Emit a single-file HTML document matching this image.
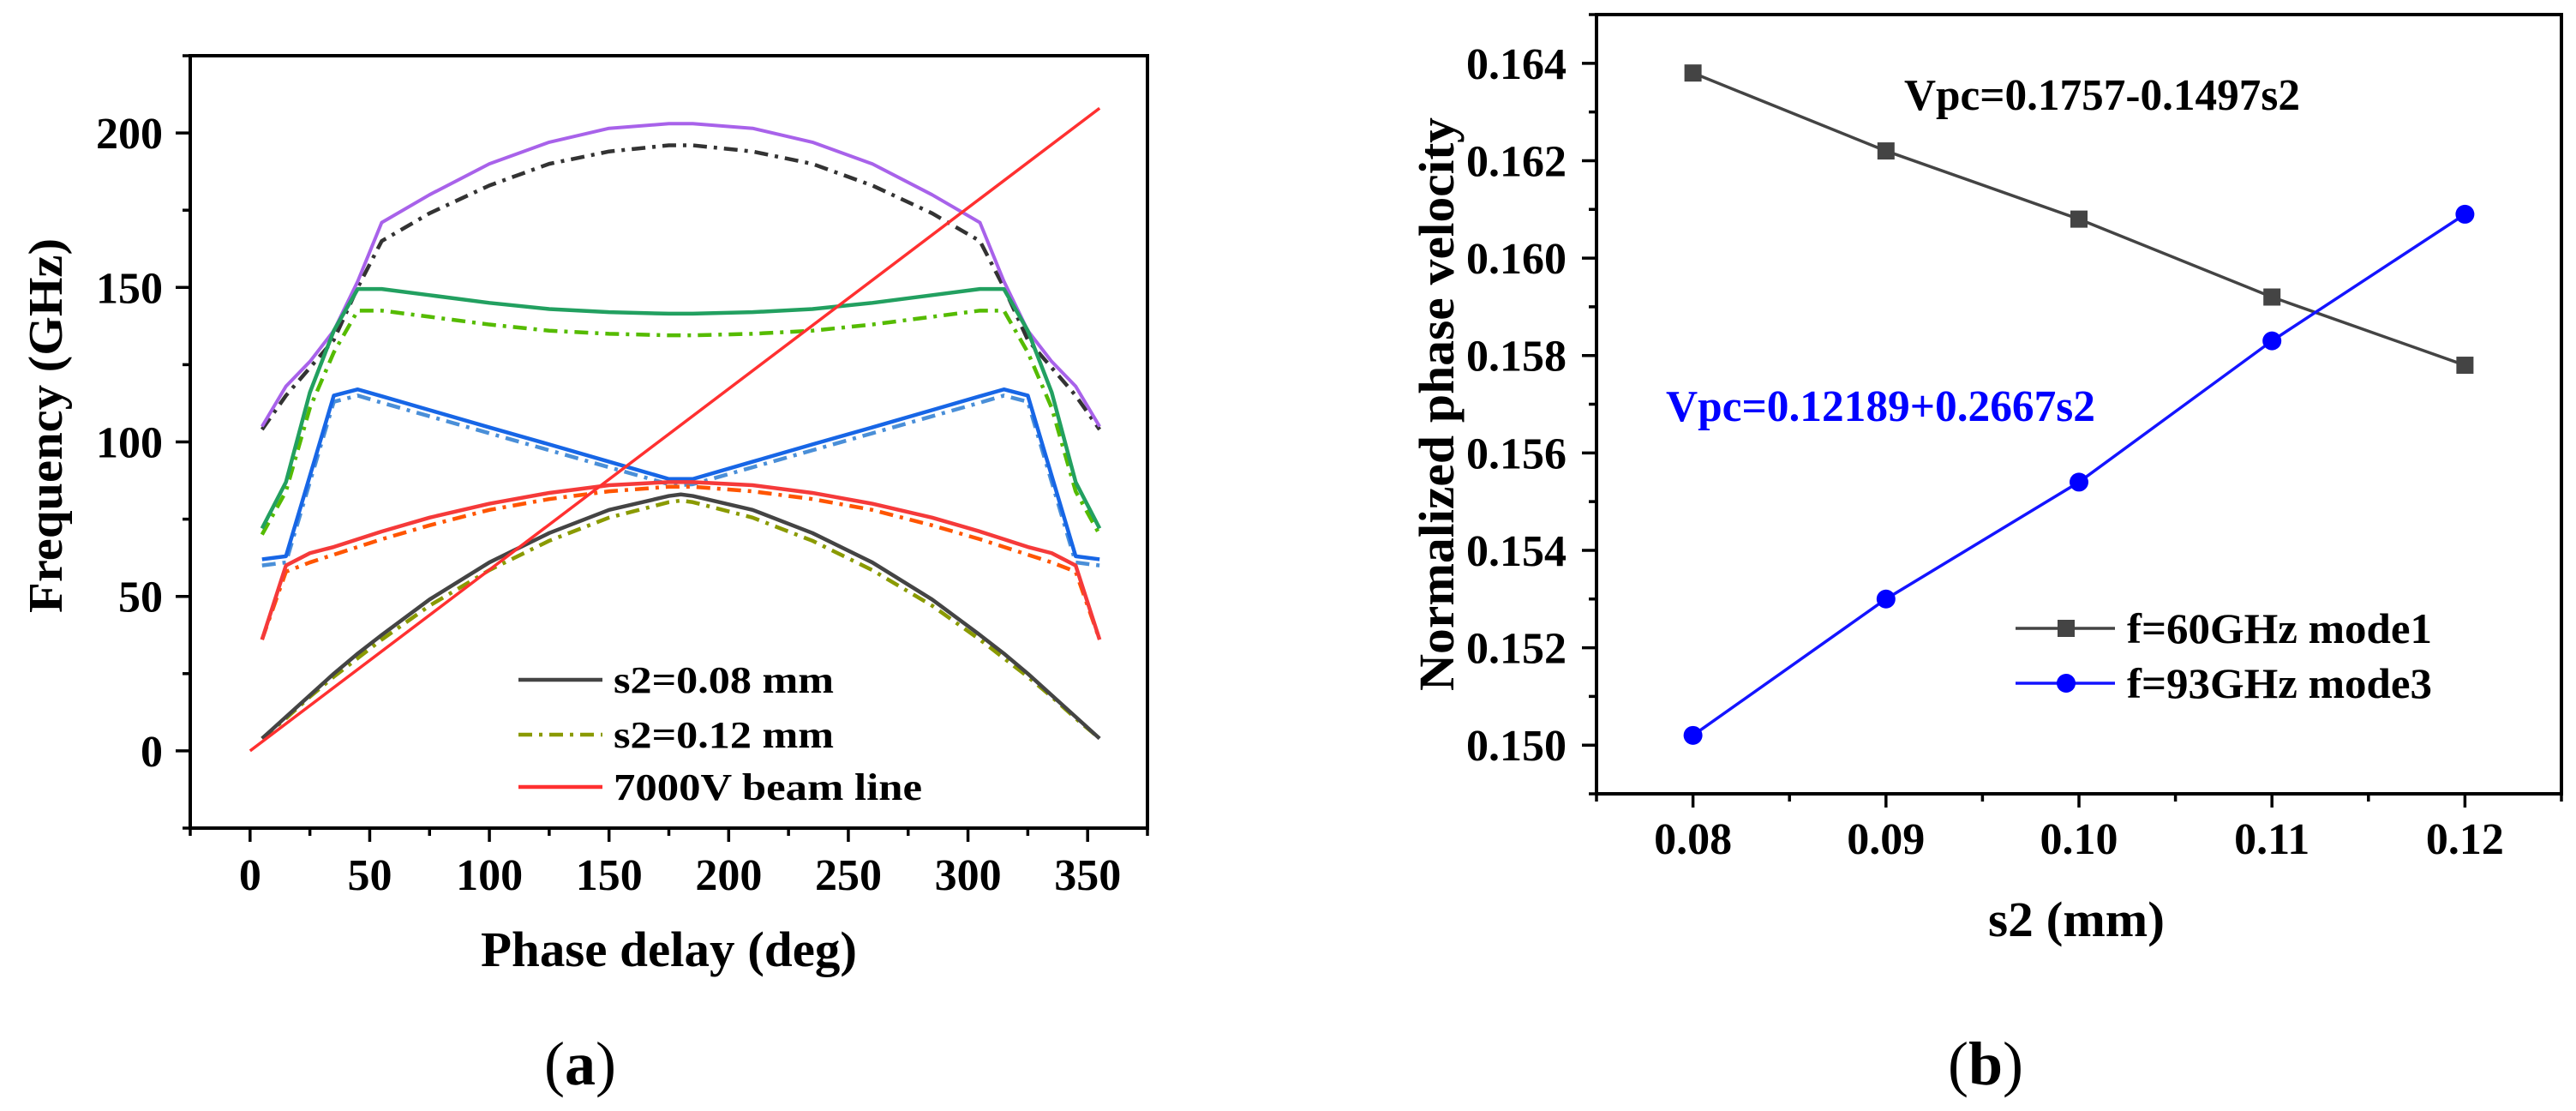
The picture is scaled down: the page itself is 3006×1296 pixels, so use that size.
<!DOCTYPE html>
<html><head><meta charset="utf-8"><style>
html,body{margin:0;padding:0;background:#fff;}
svg{display:block;font-family:"Liberation Serif",serif;font-weight:bold;}
</style></head><body>
<svg id="fig" width="3006" height="1296" viewBox="0 0 3006 1296" xmlns="http://www.w3.org/2000/svg">
<rect x="0" y="0" width="3006" height="1296" fill="#fff"/>
<g id="chartA"></g>
<g id="chartB"></g>
<text x="677" y="1265" font-size="72" text-anchor="middle" font-weight="normal">(<tspan font-weight="bold">a</tspan>)</text>
<text x="2317" y="1265" font-size="72" text-anchor="middle" font-weight="normal">(<tspan font-weight="bold">b</tspan>)</text>
</svg>
<script>
// ---------- Chart (a) data ----------
const angles = [5,15,25,35,45,55,75,100,125,150,175,180,185,210,235,260,285,305,315,325,335,345,355];
const purpleVals   = [105,118,126,136,152,171,180,190,197,201.5,203,203,203,201.5,197,190,180,171,152,136,126,118,105];
const purpleDash   = [104,115,124,133,150,165,174,183,190,194,196,196,196,194,190,183,174,165,150,133,124,115,104];
const greenVals    = [72,87,116,136,149.5,149.5,147.5,145,143,142,141.5,141.5,141.5,142,143,145,147.5,149.5,149.5,136,116,87,72];
const greenDash    = [70,84,111,129,142.5,142.5,140.5,138,136,135,134.5,134.5,134.5,135,136,138,140.5,142.5,142.5,129,111,84,70];
const blueVals     = [62,63,89,115,117,114.8,110.3,104.7,99.2,93.6,88,88,88,93.6,99.2,104.7,110.3,114.8,117,115,89,63,62];
const blueDash     = [60,61,87,113,115,112.7,108.3,102.8,97.3,91.8,86.3,86,86.3,91.8,97.3,102.8,108.3,112.7,115,113,87,61,60];
const redVals      = [36,60,64,66,68.5,71,75.5,80,83.5,86,87,87,87,86,83.5,80,75.5,71,68.5,66,64,60,36];
const orangeDash   = [36,58,61,63.5,66,68.5,73,78,81.5,84,85.5,85.5,85.5,84,81.5,78,73,68.5,66,63.5,61,58,36];
const mode1Vals    = [4,11,18,25,31.5,37.5,49,61,70.5,78,82.5,83,82.5,78,70.5,61,49,37.5,31.5,25,18,11,4];
const mode1Dash    = [4,10.5,17.5,24,30,36,47,58.5,68,75.5,80.5,81,80.5,75.5,68,58.5,47,36,30,24,17.5,10.5,4];
const beamX = [0,355];
const beamY = [0,208];
const aXTicks = [0,50,100,150,200,250,300,350];
const aYTicks = [0,50,100,150,200];

// ---------- Chart (b) data ----------
const s2 = [0.08,0.09,0.10,0.11,0.12];
const mode1V = [0.1638,0.1622,0.1608,0.1592,0.1578];
const mode3V = [0.1502,0.1530,0.1554,0.1583,0.1609];
const bXTicks = ["0.08","0.09","0.10","0.11","0.12"];
const bYTicks = ["0.150","0.152","0.154","0.156","0.158","0.160","0.162","0.164"];

const NS="http://www.w3.org/2000/svg";
function mk(tag,attrs,parent){const e=document.createElementNS(NS,tag);for(const k in attrs)e.setAttribute(k,attrs[k]);parent.appendChild(e);return e;}

// ===== Chart A =====
const A=document.getElementById('chartA');
const aL=222,aR=1339,aT=65,aB=966;
const ax=v=>aL+(v+25)/400*(aR-aL);
const ay=v=>aB-(v+25)/250*(aB-aT);
function polyA(xs,ys,color,w,dash,name){
  const p=mk('polyline',{points:xs.map((x,i)=>ax(x)+','+ay(ys[i])).join(' '),fill:'none',stroke:color,'stroke-width':w,'stroke-linejoin':'round'},A);
  if(dash)p.setAttribute('stroke-dasharray',dash);
  
  
}
const DD='16,8,4,8';
polyA(angles,purpleDash,'#333',4.5,DD,'mode5-s2-012');
polyA(angles,purpleVals,'#a862ea',4,null,'mode5-s2-008');
polyA(angles,greenDash,'#55bb00',4.5,DD,'mode4-s2-012');
polyA(angles,greenVals,'#22a060',4.5,null,'mode4-s2-008');
polyA(angles,blueDash,'#4a8fd8',4.5,DD,'mode3-s2-012');
polyA(angles,blueVals,'#1766e6',4.5,null,'mode3-s2-008');
polyA(angles,orangeDash,'#ff5500',4.5,DD,'mode2-s2-012');
polyA(angles,redVals,'#f53a3a',4.5,null,'mode2-s2-008');
polyA(angles,mode1Dash,'#8a9a00',4.5,DD,'mode1-s2-012');
polyA(angles,mode1Vals,'#444',4.5,null,'mode1-s2-008');
polyA(beamX,beamY,'#ff3030',3.5,null,'beam-line');
let f=mk('rect',{x:aL,y:aT,width:aR-aL,height:aB-aT,fill:'none',stroke:'#000','stroke-width':4},A);


for(let v=-25;v<=375;v+=25){
  const major=(v%50===0)&&v>=0&&v<=350;
  mk('line',{x1:ax(v),x2:ax(v),y1:aB,y2:aB+(major?16:9),stroke:'#000','stroke-width':3.5},A);
}
aXTicks.forEach(v=>{const t=mk('text',{x:ax(v),y:aB+72,'font-size':52,'text-anchor':'middle'},A);t.textContent=v;

});
for(let v=-25;v<=225;v+=25){
  const major=(v%50===0)&&v>=0&&v<=200;
  mk('line',{x1:aL,x2:aL-(major?17:9),y1:ay(v),y2:ay(v),stroke:'#000','stroke-width':3.5},A);
}
aYTicks.forEach(v=>{const t=mk('text',{x:190,y:ay(v)+18,'font-size':52,'text-anchor':'end'},A);t.textContent=v;

});
let t=mk('text',{x:561,y:1127,'font-size':58,textLength:439,lengthAdjust:'spacingAndGlyphs'},A);t.textContent='Phase delay (deg)';


t=mk('text',{x:0,y:0,'font-size':56,textLength:437,lengthAdjust:'spacingAndGlyphs',transform:'translate(72,715) rotate(-90)'},A);t.textContent='Frequency (GHz)';


const legA=[['s2=0.08 mm','#444',null,257],['s2=0.12 mm','#8a9a00','16,8,4,8',257],['7000V beam line','#ff3030',null,360]];
const legYs=[793,857,918];
legA.forEach((d,i)=>{
  const g=mk('g',{},A);
  
  
  const l=mk('line',{x1:605,x2:703,y1:legYs[i],y2:legYs[i],stroke:d[1],'stroke-width':4.5},g);
  if(d[2])l.setAttribute('stroke-dasharray',d[2]);
  const tt=mk('text',{x:716,y:legYs[i]+15,'font-size':44,textLength:d[3],lengthAdjust:'spacingAndGlyphs'},g);tt.textContent=d[0];
});

// ===== Chart B =====
const B=document.getElementById('chartB');
const bL=1863,bR=2989,bT=17,bB=926;
const bx=v=>bL+(v-0.075)/0.05*(bR-bL);
const by=v=>bB-(v-0.149)/0.016*(bB-bT);
f=mk('rect',{x:bL,y:bT,width:bR-bL,height:bB-bT,fill:'none',stroke:'#000','stroke-width':4},B);


for(let i=0;i<=10;i++){const v=0.075+i*0.005;const major=i%2===1;
  mk('line',{x1:bx(v),x2:bx(v),y1:bB,y2:bB+(major?16:9),stroke:'#000','stroke-width':3.5},B);}
bXTicks.forEach(s=>{const tt=mk('text',{x:bx(parseFloat(s)),y:bB+70,'font-size':52,'text-anchor':'middle'},B);tt.textContent=s;

});
for(let i=0;i<=16;i++){const v=0.149+i*0.001;const major=i%2===1;
  mk('line',{x1:bL,x2:bL-(major?17:9),y1:by(v),y2:by(v),stroke:'#000','stroke-width':3.5},B);}
bYTicks.forEach(s=>{const tt=mk('text',{x:1828,y:by(parseFloat(s))+18,'font-size':52,'text-anchor':'end'},B);tt.textContent=s;

});
let p=mk('polyline',{points:s2.map((x,i)=>bx(x)+','+by(mode1V[i])).join(' '),fill:'none',stroke:'#444','stroke-width':3.5},B);


s2.forEach((x,i)=>{const r=mk('rect',{x:bx(x)-10,y:by(mode1V[i])-10,width:20,height:20,fill:'#444'},B);

});
p=mk('polyline',{points:s2.map((x,i)=>bx(x)+','+by(mode3V[i])).join(' '),fill:'none',stroke:'#1414ff','stroke-width':3.5},B);


s2.forEach((x,i)=>{const c=mk('circle',{cx:bx(x),cy:by(mode3V[i]),r:11,fill:'#0000ff'},B);

});
t=mk('text',{x:2222,y:128,'font-size':52,textLength:462,lengthAdjust:'spacingAndGlyphs'},B);t.textContent='Vpc=0.1757-0.1497s2';


t=mk('text',{x:1944,y:491,'font-size':52,fill:'#0000ff',textLength:501,lengthAdjust:'spacingAndGlyphs'},B);t.textContent='Vpc=0.12189+0.2667s2';


t=mk('text',{x:2320,y:1092,'font-size':58,textLength:206,lengthAdjust:'spacingAndGlyphs'},B);t.textContent='s2 (mm)';


t=mk('text',{x:0,y:0,'font-size':58,textLength:669,lengthAdjust:'spacingAndGlyphs',transform:'translate(1696,806) rotate(-90)'},B);t.textContent='Normalized phase velocity';


const legB=[['f=60GHz mode1','#444','sq'],['f=93GHz mode3','#1414ff','ci']];
const legBY=[733,797];
legB.forEach((d,i)=>{
  const g=mk('g',{},B);
  
  
  mk('line',{x1:2352,x2:2468,y1:legBY[i],y2:legBY[i],stroke:d[1],'stroke-width':3.5},g);
  if(d[2]==='sq')mk('rect',{x:2401,y:legBY[i]-10,width:20,height:20,fill:'#444'},g);
  else mk('circle',{cx:2411,cy:legBY[i],r:11,fill:'#0000ff'},g);
  const tt=mk('text',{x:2482,y:legBY[i]+17,'font-size':50,textLength:356,lengthAdjust:'spacingAndGlyphs'},g);tt.textContent=d[0];
});
</script>
</body></html>
